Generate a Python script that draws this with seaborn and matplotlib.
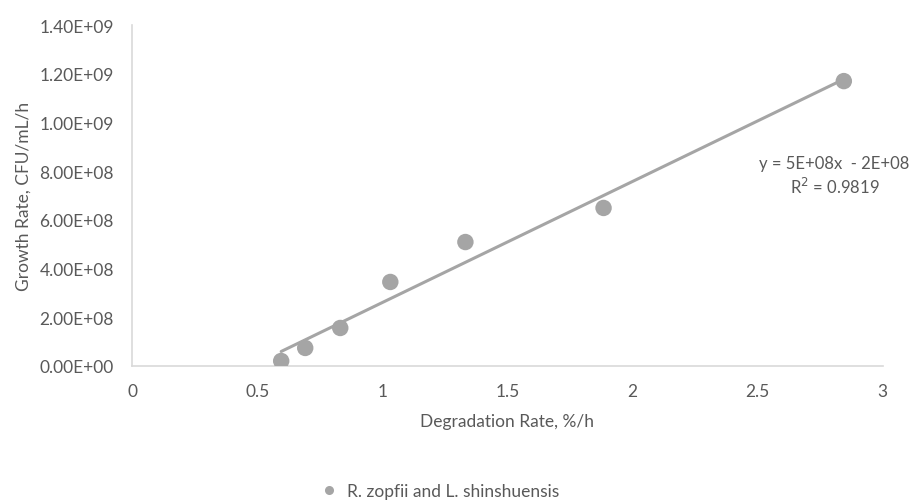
import numpy as np
import pandas as pd
import matplotlib.pyplot as plt
import seaborn as sns

# Data
degradation_rate = [0.596, 0.692, 0.832, 1.032, 1.332, 1.884, 2.844]
growth_rate = [2.05e7, 7.4e7, 1.56e8, 3.45e8, 5.09e8, 6.49e8, 1.170e9]
series_name = 'R. zopfii and L. shinshuensis'
x_ticks = [0, 0.5, 1, 1.5, 2, 2.5, 3]
y_ticks = [0, 2e8, 4e8, 6e8, 8e8, 1.0e9, 1.2e9, 1.4e9]

df = pd.DataFrame({'x': degradation_rate, 'y': growth_rate, 'series': series_name})

sns.set_style('white')
plt.rcParams['font.family'] = ['Lato', 'DejaVu Sans']
text_color = '#595959'
point_color = '#a5a5a5'

fig = plt.figure(figsize=(9.13, 5.02), dpi=100)
ax = fig.add_axes([0.1446, 0.269, 0.8224, 0.679])

# Linear trendline (least squares)
sns.regplot(data=df, x='x', y='y', scatter=False, ci=None, ax=ax,
            line_kws={'color': point_color, 'linewidth': 2.2})
sns.scatterplot(data=df, x='x', y='y', hue='series', palette=[point_color],
                s=140, edgecolor='none', ax=ax, zorder=3)

ax.set_xlim(0, 3)
ax.set_ylim(0, 1.4e9)
ax.set_xticks(x_ticks)
ax.set_xticklabels(['0', '0.5', '1', '1.5', '2', '2.5', '3'])
ax.set_yticks(y_ticks)
ax.set_yticklabels([f'{v:.2E}' for v in y_ticks])
ax.tick_params(axis='both', length=0, labelsize=12.5, colors=text_color)
ax.tick_params(axis='x', pad=12)
ax.tick_params(axis='y', pad=13)

for side in ['top', 'right']:
    ax.spines[side].set_visible(False)
for side in ['left', 'bottom']:
    ax.spines[side].set_color('#d9d9d9')
    ax.spines[side].set_linewidth(1.2)

ax.set_xlabel('Degradation Rate, %/h', fontsize=12.5, color=text_color, labelpad=10)
ax.set_ylabel('Growth Rate, CFU/mL/h', fontsize=12.5, color=text_color, labelpad=6)

ax.text(0.914, 0.649, 'y = 5E+08x  - 2E+08\nR$^2$ = 0.9819', transform=fig.transFigure,
        ha='center', va='center', fontsize=12, color=text_color,
        linespacing=1.3, multialignment='center')

ax.legend(loc='center left', bbox_to_anchor=(0.341, 0.02), bbox_transform=fig.transFigure,
          frameon=False, fontsize=12.5, labelcolor=text_color, handletextpad=0.05,
          markerscale=0.55, borderaxespad=0, borderpad=0)

fig.savefig('out.png', dpi=100)
